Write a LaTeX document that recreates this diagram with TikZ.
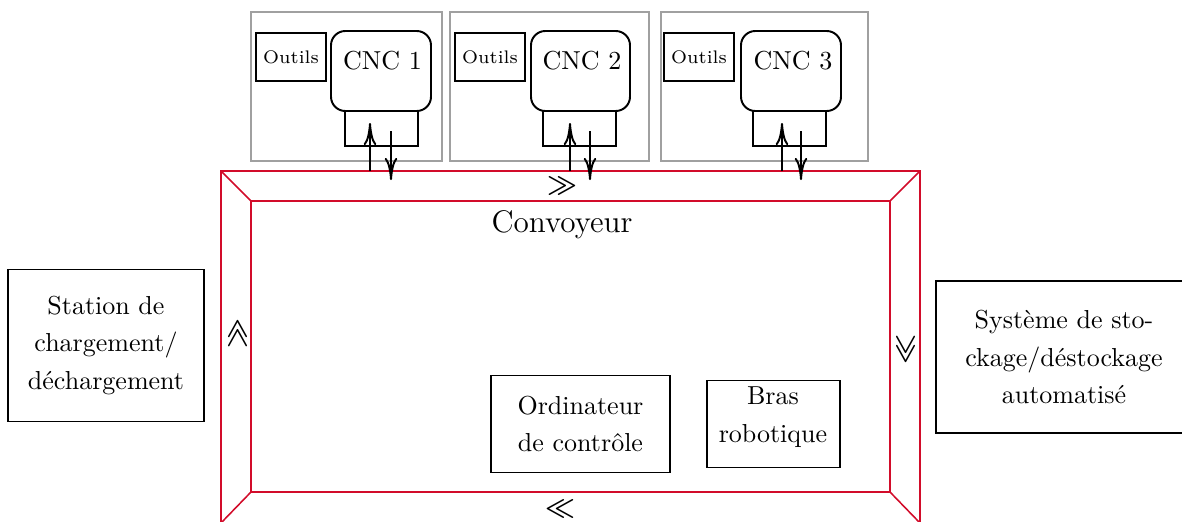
\documentclass[tikz,border=0pt]{standalone}
\usetikzlibrary{arrows.meta}
\definecolor{convred}{RGB}{210,12,42}
\definecolor{framegray}{RGB}{160,160,160}
\def\pxu{0.3846pt}
\begin{document}
\begin{tikzpicture}[x={(0.3846pt,0)}, y={(0,-0.3846pt)},
  sz/.style 2 args={minimum width={#1*\pxu}, minimum height={#2*\pxu}},
  graybox/.style={draw=framegray, line width=0.6pt, inner sep=0pt},
  blackbox/.style={draw=black, line width=0.75pt, inner sep=0pt, align=center, font=\linespread{1.21}\selectfont},
  cncbox/.style={draw=black, line width=0.75pt, inner sep=0pt, rounded corners=5.5pt},
  tooltxt/.style={font=\scriptsize},
  plain/.style={inner sep=0pt, align=center, font=\linespread{1.21}\selectfont},
  belt/.style={draw=convred, line width=0.6pt},
  flow/.style={line width=0.75pt, -{To[length=8.5pt,width=4.8pt]}},
  chev/.style={inner sep=0pt, font=\boldmath}]
\useasboundingbox (0,0) rectangle (1182,521);

% --- conveyor (red frame)
\coordinate (oNW) at (221,171); \coordinate (oNE) at (920,171);
\coordinate (oSE) at (920,523); \coordinate (oSW) at (221,523);
\coordinate (iNW) at (251,201); \coordinate (iNE) at (890,201);
\coordinate (iSE) at (890,492); \coordinate (iSW) at (251,492);
\draw[belt] (oNW) -- (oNE) -- (oSE) -- (oSW) -- cycle;
\draw[belt] (iNW) -- (iNE) -- (iSE) -- (iSW) -- cycle;
\draw[belt] (oNW) -- (iNW);
\draw[belt] (oNE) -- (iNE);
\draw[belt] (oSE) -- (iSE);
\draw[belt] (oSW) -- (iSW);
\node[anchor=base, font=\large, inner sep=0pt] (conv) at (562,232) {Convoyeur};

% --- direction chevrons
\node[chev] (chT) at (562,186) {$\gg$};
\node[chev, rotate=-90] (chR) at (905.5,349.5) {$\gg$};
\node[chev] (chB) at (560,508.5) {$\ll$};
\node[chev, rotate=90] (chL) at (237.5,334) {$\gg$};

% --- CNC cells
\node[graybox, sz={191}{149}] (g1) at (346.5,86.5) {};
\node[graybox, sz={199}{149}] (g2) at (549.5,86.5) {};
\node[graybox, sz={207}{149}] (g3) at (764.5,86.5) {};

\node[blackbox, sz={70}{48}, tooltxt] (o1) at (291,57) {Outils};
\node[blackbox, sz={70}{48}, tooltxt] (o2) at (490,57) {Outils};
\node[blackbox, sz={70}{48}, tooltxt] (o3) at (699,57) {Outils};

\node[cncbox, sz={100}{80}] (c1) at (381,71) {};
\node[cncbox, sz={99}{80}] (c2) at (580.5,71) {};
\node[cncbox, sz={100}{80}] (c3) at (791,71) {};
\node[plain, anchor=base] (c1t) at (382.5,69) {CNC 1};
\node[plain, anchor=base] (c2t) at (582,69) {CNC 2};
\node[plain, anchor=base] (c3t) at (793,69) {CNC 3};

\node[blackbox, sz={73}{35}] (p1) at (381.5,128.5) {};
\node[blackbox, sz={73}{35}] (p2) at (579.5,128.5) {};
\node[blackbox, sz={73}{35}] (p3) at (789.5,128.5) {};

% --- transfer arrows between conveyor and CNC ports
\foreach \i/\ux/\dx in {1/370/391, 2/570/590, 3/782/801}{
  \coordinate (u\i a) at (\ux,171);
  \coordinate (u\i b) at (\ux,123);
  \coordinate (d\i a) at (\dx,131);
  \coordinate (d\i b) at (\dx,180);
  \draw[flow] (u\i a) -- (u\i b);
  \draw[flow] (d\i a) -- (d\i b);
}

% --- other stations
\node[blackbox, sz={196}{152}] (st) at (106,345.5) {Station de\\chargement/\\déchargement};
\node[blackbox, sz={256}{152}] (sy) at (1064,357) {Système de sto-\\ckage/déstockage\\automatisé};
\node[blackbox, sz={179}{97}] (od) at (580.5,424) {Ordinateur\\de contrôle};
\node[blackbox, sz={133}{87}] (br) at (773.5,424) {};
\node[plain, anchor=base] (brt) at (773,442) {Bras\\robotique};
\end{tikzpicture}
\end{document}
